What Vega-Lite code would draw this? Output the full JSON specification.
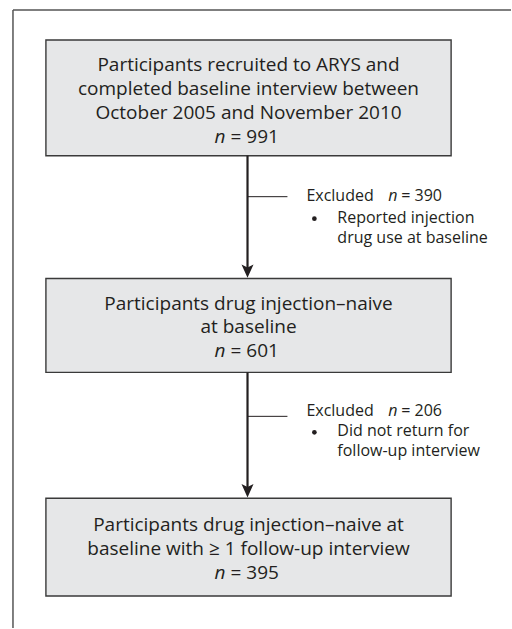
{
  "$schema": "https://vega.github.io/schema/vega-lite/v6.json",
  "autosize": {"type": "fit", "contains": "padding"},
  "width": 512,
  "height": 629,
  "padding": 0,
  "background": "white",
  "config": {"view": {"stroke": null}, "font": "Open Sans"},
  "datasets": {
    "boxes": [
      {"x1": 46, "x2": 452, "y1": 40, "y2": 156},
      {"x1": 46, "x2": 452, "y1": 279, "y2": 373},
      {"x1": 46, "x2": 452, "y1": 499, "y2": 597}
    ],
    "frame": [
      {"x1": 13, "x2": 512, "y1": 10, "y2": 10},
      {"x1": 13, "x2": 13, "y1": 10, "y2": 629}
    ],
    "shafts": [
      {"x1": 248, "x2": 248, "y1": 156, "y2": 272},
      {"x1": 248, "x2": 248, "y1": 373, "y2": 492}
    ],
    "branches": [
      {"x1": 248, "x2": 288, "y1": 197, "y2": 197},
      {"x1": 248, "x2": 288, "y1": 417, "y2": 417}
    ],
    "heads": [
      {"x": 248, "y": 271.5},
      {"x": 248, "y": 491.5}
    ],
    "mainText": [
      {"x": 249, "y": 65, "t": "Participants recruited to ARYS and"},
      {"x": 249, "y": 89, "t": "completed baseline interview between"},
      {"x": 249, "y": 113, "t": "October 2005 and November 2010"},
      {"x": 249, "y": 304, "t": "Participants drug injection–naive"},
      {"x": 249, "y": 328, "t": "at baseline"},
      {"x": 249, "y": 526, "t": "Participants drug injection–naive at"},
      {"x": 249, "y": 550, "t": "baseline with ≥ 1 follow-up interview"}
    ],
    "nItalic": [
      {"x": 226, "y": 137, "t": "n"},
      {"x": 226, "y": 352, "t": "n"},
      {"x": 226, "y": 574, "t": "n"}
    ],
    "nValue": [
      {"x": 231, "y": 137, "t": "= 991"},
      {"x": 231, "y": 352, "t": "= 601"},
      {"x": 231, "y": 574, "t": "= 395"}
    ],
    "sideText": [
      {"x": 307, "y": 196, "t": "Excluded"},
      {"x": 402, "y": 196, "t": "= 390"},
      {"x": 338, "y": 218, "t": "Reported injection"},
      {"x": 338, "y": 238, "t": "drug use at baseline"},
      {"x": 307, "y": 412, "t": "Excluded"},
      {"x": 402, "y": 412, "t": "= 206"},
      {"x": 338, "y": 432, "t": "Did not return for"},
      {"x": 338, "y": 452, "t": "follow-up interview"}
    ],
    "sideItalic": [
      {"x": 389, "y": 196, "t": "n"},
      {"x": 389, "y": 412, "t": "n"}
    ],
    "bullets": [
      {"x": 315, "y": 219},
      {"x": 315, "y": 433}
    ]
  },
  "layer": [
    {
      "data": {"name": "frame"},
      "mark": {"type": "rule", "color": "#555555", "strokeWidth": 1.5},
      "encoding": {
        "x": {"field": "x1", "type": "quantitative", "scale": {"domain": [0, 512], "nice": false, "zero": false}, "axis": null},
        "x2": {"field": "x2"},
        "y": {"field": "y1", "type": "quantitative", "scale": {"domain": [0, 629], "nice": false, "zero": false, "reverse": true}, "axis": null},
        "y2": {"field": "y2"}
      }
    },
    {
      "data": {"name": "boxes"},
      "mark": {"type": "rect", "fill": "#e6e7e8", "stroke": "#3a3a3a", "strokeWidth": 1.4},
      "encoding": {
        "x": {"field": "x1", "type": "quantitative"},
        "x2": {"field": "x2"},
        "y": {"field": "y1", "type": "quantitative"},
        "y2": {"field": "y2"}
      }
    },
    {
      "data": {"name": "shafts"},
      "mark": {"type": "rule", "color": "#231f20", "strokeWidth": 2.2},
      "encoding": {
        "x": {"field": "x1", "type": "quantitative"},
        "y": {"field": "y1", "type": "quantitative"},
        "y2": {"field": "y2"}
      }
    },
    {
      "data": {"name": "branches"},
      "mark": {"type": "rule", "color": "#231f20", "strokeWidth": 1},
      "encoding": {
        "x": {"field": "x1", "type": "quantitative"},
        "x2": {"field": "x2"},
        "y": {"field": "y1", "type": "quantitative"}
      }
    },
    {
      "data": {"name": "heads"},
      "mark": {"type": "point", "shape": "M0,1 L-0.9,-1 L0,-0.55 L0.9,-1 Z", "size": 178, "filled": true, "color": "#231f20", "opacity": 1},
      "encoding": {
        "x": {"field": "x", "type": "quantitative"},
        "y": {"field": "y", "type": "quantitative"}
      }
    },
    {
      "data": {"name": "bullets"},
      "mark": {"type": "point", "shape": "circle", "size": 22, "filled": true, "color": "#231f20", "opacity": 1},
      "encoding": {
        "x": {"field": "x", "type": "quantitative"},
        "y": {"field": "y", "type": "quantitative"}
      }
    },
    {
      "data": {"name": "mainText"},
      "mark": {"type": "text", "fontSize": 19, "color": "#231f20", "align": "center", "baseline": "middle"},
      "encoding": {
        "x": {"field": "x", "type": "quantitative"},
        "y": {"field": "y", "type": "quantitative"},
        "text": {"field": "t"}
      }
    },
    {
      "data": {"name": "nItalic"},
      "mark": {"type": "text", "fontSize": 19, "fontStyle": "italic", "color": "#231f20", "align": "right", "baseline": "middle"},
      "encoding": {
        "x": {"field": "x", "type": "quantitative"},
        "y": {"field": "y", "type": "quantitative"},
        "text": {"field": "t"}
      }
    },
    {
      "data": {"name": "nValue"},
      "mark": {"type": "text", "fontSize": 19, "color": "#231f20", "align": "left", "baseline": "middle"},
      "encoding": {
        "x": {"field": "x", "type": "quantitative"},
        "y": {"field": "y", "type": "quantitative"},
        "text": {"field": "t"}
      }
    },
    {
      "data": {"name": "sideText"},
      "mark": {"type": "text", "fontSize": 16, "color": "#231f20", "align": "left", "baseline": "middle"},
      "encoding": {
        "x": {"field": "x", "type": "quantitative"},
        "y": {"field": "y", "type": "quantitative"},
        "text": {"field": "t"}
      }
    },
    {
      "data": {"name": "sideItalic"},
      "mark": {"type": "text", "fontSize": 16, "fontStyle": "italic", "color": "#231f20", "align": "left", "baseline": "middle"},
      "encoding": {
        "x": {"field": "x", "type": "quantitative"},
        "y": {"field": "y", "type": "quantitative"},
        "text": {"field": "t"}
      }
    }
  ]
}
